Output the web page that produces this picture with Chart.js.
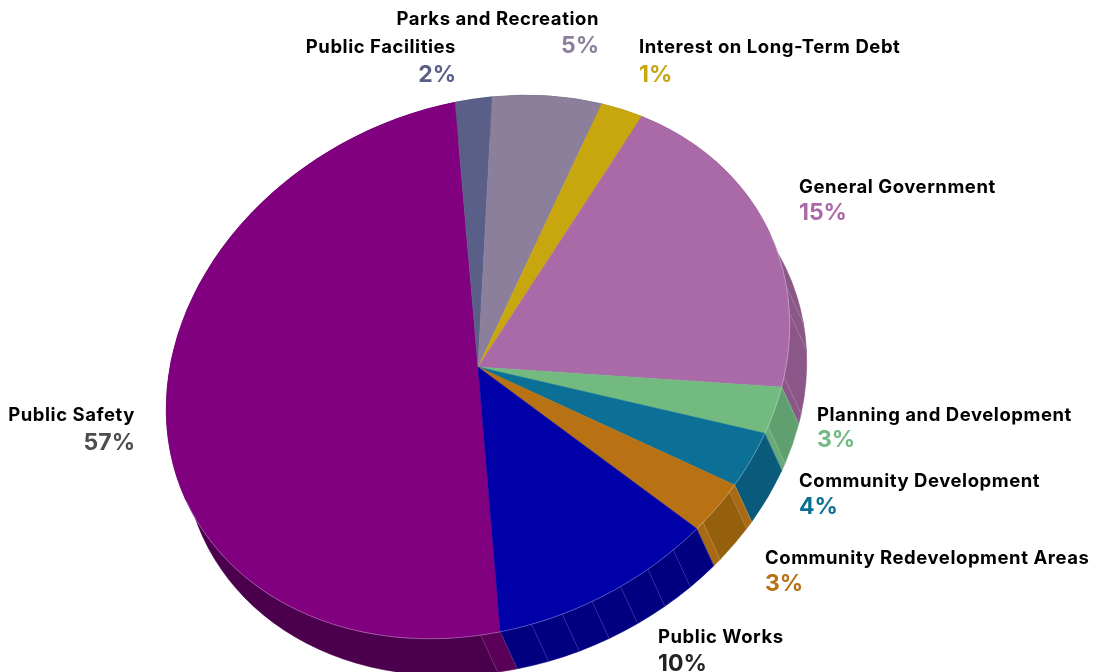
<!DOCTYPE html>
<html><head><meta charset="utf-8">
<style>html,body{margin:0;padding:0;background:#fff;overflow:hidden}canvas{display:block}</style>
<script src="https://cdn.jsdelivr.net/npm/chart.js@4"></script>
</head><body><canvas id="c" width="1096" height="672"></canvas>
<script>
const categories = ["Public Safety","Public Facilities","Parks and Recreation","Interest on Long-Term Debt","General Government","Planning and Development","Community Development","Community Redevelopment Areas","Public Works"];
const drawnShares = [49.97,1.89,5.77,2.31,19.84,2.75,3.22,3.0,11.25];
const percentLabels = ["57%","2%","5%","1%","15%","3%","4%","3%","10%"];
const topColors = ["#800080","#5a5f87","#8b7f9b","#c7a60e","#aa6aa8","#72ba80","#0c7096","#b97213","#0000a8"];
const wallColors = ["#4b004d","#3c3f5a","#5d5568","#85700a","#8b5788","#60a06f","#0a5a7c","#95600e","#000080"];
const wallEdgeColors = ["#5a0058","#3c3f5a","#5d5568","#85700a","#8b5788","#6aaa78","#0a5a7c","#a86a12","#000080"];
const percentColors = ["#4d4d4d","#5a5f87","#8b7f9b","#c7a60e","#aa6aa8","#72ba80","#0c7096","#b97213","#222222"];
// facet breaks on each slice's side wall, as fractions of the slice
const wallBreaks = [[0.02],[],[],[],[0.70,0.78,0.97],[0.85],[],[0.15,0.85],[0.143,0.286,0.429,0.571,0.714,0.857]];
const tilt = {a:1.04,b:-0.14,c:0,d:0.8957};
const depth = {x:16.35,y:43.86};
// label anchors: x, name baseline, percent baseline, align
const labelPos = [
 [135,421,450,"right"],[456,53,82,"right"],[599,25,53,"right"],[639,53,82,"left"],
 [799,193,220,"left"],[817,421,447,"left"],[799,487,514,"left"],[765,564,591,"left"],[658,643,671,"left"]
];
const nameFont = '700 18.5px Inter', pctFont = '700 23px Inter';

function applyTilt(ctx,x,y){
  ctx.translate(x,y);
  ctx.transform(tilt.a,tilt.b,tilt.c,tilt.d,0,0);
  ctx.translate(-x,-y);
}
const tiltPlugin = {
  id:'tilt3d',
  beforeDatasetsDraw(chart){
    const ctx = chart.ctx, arcs = chart.getDatasetMeta(0).data;
    const x = arcs[0].x, y = arcs[0].y, R = arcs[0].outerRadius;
    const facing = Math.atan2(depth.y,depth.x);
    ctx.save();
    applyTilt(ctx,x,y);
    ctx.lineWidth = 0.6;
    arcs.forEach((arc,i)=>{
      const span = arc.endAngle-arc.startAngle;
      const stops = [0,...wallBreaks[i],1];
      for(let k=0;k<stops.length-1;k++){
        const a0 = arc.startAngle+stops[k]*span, a1 = arc.startAngle+stops[k+1]*span;
        const edge = stops.length>2 && (k===0||k===stops.length-2) && wallBreaks[i].length<4;
        const first = i===0 ? k===0 : edge;
        ctx.beginPath();
        ctx.arc(x,y,R,a0,a1);
        ctx.arc(x+depth.x,y+depth.y,R,a1,a0,true);
        ctx.closePath();
        ctx.fillStyle = (i===5 ? k===1 : first)?wallEdgeColors[i]:wallColors[i];
        ctx.strokeStyle = ctx.fillStyle;
        ctx.fill(); ctx.stroke();
      }
      stops.forEach(s=>{
        const a = arc.startAngle+s*span;
        if(Math.cos(a-facing)<=0) return;
        ctx.beginPath();
        ctx.moveTo(x+R*Math.cos(a),y+R*Math.sin(a));
        ctx.lineTo(x+depth.x+R*Math.cos(a),y+depth.y+R*Math.sin(a));
        ctx.strokeStyle = 'rgba(255,255,255,0.25)';
        ctx.stroke();
      });
    });
  },
  afterDatasetsDraw(chart){
    const ctx = chart.ctx, arcs = chart.getDatasetMeta(0).data;
    const x = arcs[0].x, y = arcs[0].y, R = arcs[0].outerRadius;
    const facing = Math.atan2(depth.y,depth.x);
    ctx.beginPath();
    ctx.arc(x,y,R,facing-Math.PI/2,facing+Math.PI/2);
    ctx.lineWidth = 0.7;
    ctx.strokeStyle = 'rgba(255,255,255,0.4)';
    ctx.stroke();
    ctx.restore();
    ctx.textBaseline = 'alphabetic';
    categories.forEach((name,i)=>{
      const p = labelPos[i];
      ctx.textAlign = p[3];
      ctx.font = nameFont; ctx.fillStyle = '#000'; ctx.letterSpacing = '0.55px';
      ctx.fillText(name,p[0],p[1]);
      ctx.font = pctFont; ctx.fillStyle = percentColors[i]; ctx.letterSpacing = '0px';
      ctx.fillText(percentLabels[i],p[0],p[2]);
    });
  }
};
new Chart(document.getElementById('c'),{
  type:'pie',
  data:{labels:categories,datasets:[{data:drawnShares,backgroundColor:topColors,borderColor:topColors,borderWidth:0.5,clip:false}]},
  options:{
    responsive:false,animation:false,rotation:175.9,
    layout:{padding:{left:0,right:140,top:67,bottom:5}},
    plugins:{legend:{display:false},tooltip:{enabled:false}},
    events:[]
  },
  plugins:[tiltPlugin]
});
</script></body></html>
